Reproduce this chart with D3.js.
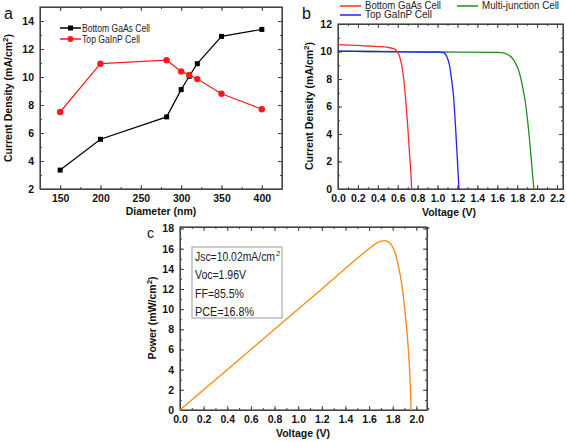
<!DOCTYPE html>
<html><head><meta charset="utf-8">
<script src="https://cdn.jsdelivr.net/npm/d3@7"></script>
<style>
body{margin:0;background:#fff;}
svg{font-family:"Liberation Sans",Arial,sans-serif;}
.tick text{font-weight:bold;font-size:10.5px;fill:#111;}
</style></head><body>
<svg id="c" width="567" height="442"></svg>
<script>
// ---- Panel a data ----
const diamBlack = [150, 200, 282, 300, 310, 320, 350, 400];
const jBlack    = [3.35, 5.55, 7.15, 9.1, 10.05, 10.95, 12.9, 13.4];
const diamRed   = [150, 200, 282, 300, 310, 320, 350, 400];
const jRed      = [7.5, 10.95, 11.2, 10.4, 10.15, 9.85, 8.8, 7.7];
const seriesA   = ["Bottom GaAs Cell", "Top GaInP Cell"];
const ticksAx   = [150, 200, 250, 300, 350, 400];
const ticksAy   = [2, 4, 6, 8, 10, 12, 14];

// ---- Panel b data (J-V curves) ----
const vGaAs = [0, 0.1, 0.2, 0.3, 0.4, 0.5, 0.55, 0.58, 0.6, 0.62, 0.64, 0.66, 0.68, 0.70, 0.72, 0.735, 0.74];
const jGaAs = [10.5, 10.47, 10.44, 10.4, 10.36, 10.3, 10.22, 10.12, 9.95, 9.6, 9.0, 8.0, 6.5, 4.6, 2.4, 0.8, 0];
const vGaInP = [0, 0.3, 0.6, 0.9, 1.0, 1.05, 1.08, 1.10, 1.12, 1.14, 1.16, 1.18, 1.20, 1.215];
const jGaInP = [10.02, 10.0, 9.98, 9.96, 9.95, 9.93, 9.8, 9.5, 9.0, 8.0, 6.8, 4.6, 2.0, 0];
const vMJ = [0, 0.4, 0.8, 1.2, 1.6, 1.66, 1.70, 1.74, 1.78, 1.82, 1.85, 1.88, 1.91, 1.94, 1.96, 1.968];
const jMJ = [10.02, 10.0, 9.98, 9.95, 9.93, 9.9, 9.8, 9.6, 9.2, 8.5, 7.6, 6.4, 4.6, 2.3, 0.6, 0];
const seriesB = ["Bottom GaAs Cell", "Top GaInP Cell", "Multi-junction Cell"];
const ticksBx = [0, 0.2, 0.4, 0.6, 0.8, 1.0, 1.2, 1.4, 1.6, 1.8, 2.0, 2.2];
const ticksBy = [0, 2, 4, 6, 8, 10, 12];

// ---- Panel c data (P-V curve) ----
const vP = [0, 0.4, 0.8, 1.2, 1.6, 1.65, 1.70, 1.73, 1.76, 1.79, 1.82, 1.85, 1.88, 1.90, 1.92, 1.94, 1.95, 1.955];
const pP = [0, 4.0, 8.0, 12.0, 16.0, 16.45, 16.75, 16.8, 16.7, 16.35, 15.6, 14.2, 12.2, 10.2, 7.8, 4.6, 2.0, 0];
const ticksCx = [0, 0.2, 0.4, 0.6, 0.8, 1.0, 1.2, 1.4, 1.6, 1.8, 2.0];
const ticksCy = [0, 2, 4, 6, 8, 10, 12, 14, 16, 18];
const statsC = ["Jsc=10.02mA/cm", "Voc=1.96V", "FF=85.5%", "PCE=16.8%"];

const svg = d3.select("#c");

function frame(g, x, y, xt, yt, xMinor, yMinor, fmtX, fmtY) {
  const [x0, x1] = x.range(), [y0, y1] = y.range();
  const col = "#444";
  const ax = (gen) => gen.tickSizeInner(-4).tickSizeOuter(0).tickPadding(6);
  g.append("g").attr("transform", `translate(0,${y0})`)
    .call(ax(d3.axisBottom(x).tickValues(xt).tickFormat(fmtX)));
  g.append("g").attr("transform", `translate(${x0},0)`)
    .call(ax(d3.axisLeft(y).tickValues(yt).tickFormat(fmtY)));
  g.append("g").attr("transform", `translate(0,${y1})`)
    .call(d3.axisTop(x).tickValues(xt).tickFormat("").tickSizeInner(-4).tickSizeOuter(0));
  g.append("g").attr("transform", `translate(${x1},0)`)
    .call(d3.axisRight(y).tickValues(yt).tickFormat("").tickSizeInner(-4).tickSizeOuter(0));
  [[d3.axisBottom, x, xMinor, y0], [d3.axisTop, x, xMinor, y1]].forEach(([f, s, m, t]) =>
    g.append("g").attr("transform", `translate(0,${t})`)
      .call(f(s).tickValues(m).tickFormat("").tickSizeInner(-2).tickSizeOuter(0))
      .call(a => a.select(".domain").remove()));
  [[d3.axisLeft, y, yMinor, x0], [d3.axisRight, y, yMinor, x1]].forEach(([f, s, m, t]) =>
    g.append("g").attr("transform", `translate(${t},0)`)
      .call(f(s).tickValues(m).tickFormat("").tickSizeInner(-2).tickSizeOuter(0))
      .call(a => a.select(".domain").remove()));
  g.selectAll(".domain, .tick line").attr("stroke", col).attr("stroke-width", 1);
  g.append("rect").attr("x", x0).attr("y", y1).attr("width", x1 - x0).attr("height", y0 - y1)
    .attr("fill", "none").attr("stroke", col).attr("stroke-width", 1.2);
}
function ylabel(g, xPos, yMid, txt) {
  const t = g.append("text").attr("transform", `translate(${xPos},${yMid}) rotate(-90)`)
    .attr("text-anchor", "middle").attr("font-weight", "bold").attr("font-size", 10.5).attr("fill", "#111");
  t.append("tspan").text(txt);
  t.append("tspan").text("2").attr("font-size", 8).attr("dy", -4);
  t.append("tspan").text(")").attr("dy", 4);
}
function xlabel(g, xMid, yPos, txt) {
  g.append("text").attr("x", xMid).attr("y", yPos).attr("text-anchor", "middle")
    .attr("font-weight", "bold").attr("font-size", 10.5).attr("fill", "#111").text(txt);
}
function legText(g, x, y, s, w, fs) {
  g.append("text").attr("x", x).attr("y", y).attr("font-size", fs || 11).attr("fill", "#222")
    .attr("textLength", w).attr("lengthAdjust", "spacingAndGlyphs").text(s);
}
const minorRange = (a, b, s) => d3.range(a, b + s / 2, s).map(v => +v.toFixed(4));

// ===== Panel a =====
{
  const g = svg.append("g");
  const x = d3.scaleLinear().domain([125, 425]).range([40, 282]);
  const y = d3.scaleLinear().domain([2, 15]).range([189, 7]);
  frame(g, x, y, ticksAx, ticksAy, minorRange(125, 425, 25), minorRange(2, 15, 1), d3.format("d"), d3.format("d"));
  const line = d3.line().x(d => x(d[0])).y(d => y(d[1]));
  const blk = diamBlack.map((d, i) => [d, jBlack[i]]);
  const red = diamRed.map((d, i) => [d, jRed[i]]);
  g.append("path").datum(blk).attr("d", line).attr("fill", "none").attr("stroke", "#000").attr("stroke-width", 1.2);
  g.selectAll(".sq").data(blk).join("rect").attr("x", d => x(d[0]) - 2.5).attr("y", d => y(d[1]) - 2.5)
    .attr("width", 5).attr("height", 5).attr("fill", "#000");
  g.append("path").datum(red).attr("d", line).attr("fill", "none").attr("stroke", "#ff1a1a").attr("stroke-width", 1.2);
  g.selectAll(".ci").data(red).join("circle").attr("cx", d => x(d[0])).attr("cy", d => y(d[1]))
    .attr("r", 3.2).attr("fill", "#ff1a1a");
  const cols = ["#000", "#ff1a1a"];
  const widths = [68, 58];
  seriesA.forEach((s, i) => {
    const yy = 28 + i * 11;
    g.append("line").attr("x1", 60).attr("x2", 81).attr("y1", yy).attr("y2", yy).attr("stroke", cols[i]).attr("stroke-width", 1.5);
    if (i === 0) g.append("rect").attr("x", 68).attr("y", yy - 2.5).attr("width", 5).attr("height", 5).attr("fill", cols[i]);
    else g.append("circle").attr("cx", 70.5).attr("cy", yy).attr("r", 3).attr("fill", cols[i]);
    legText(g, 82, yy + 4, s, widths[i]);
  });
  ylabel(g, 12, 98, "Current Density (mA/cm");
  xlabel(g, 161, 215, "Diameter (nm)");
  g.append("text").attr("x", 4).attr("y", 19).attr("font-size", 16).attr("fill", "#111").text("a");
}

// ===== Panel b =====
{
  const g = svg.append("g");
  const x = d3.scaleLinear().domain([0, 2.26]).range([338, 563]);
  const y = d3.scaleLinear().domain([0, 12]).range([189, 24]);
  frame(g, x, y, ticksBx, ticksBy, minorRange(0, 2.25, 0.1), minorRange(0, 12, 1), d3.format(".1f"), d3.format("d"));
  const line = d3.line().x(d => x(d[0])).y(d => y(d[1])).curve(d3.curveMonotoneX);
  const cols = ["#ff2a2a", "#2020ff", "#228b22"];
  const curves = [[vGaAs, jGaAs], [vGaInP, jGaInP], [vMJ, jMJ]];
  [2, 1, 0].forEach(i => {
    const [vv, jj] = curves[i];
    g.append("path").datum(vv.map((v, k) => [v, jj[k]])).attr("d", line)
      .attr("fill", "none").attr("stroke", cols[i]).attr("stroke-width", 1.3);
  });
  const leg = [[340, 6], [340, 15], [457, 6]];
  const widths = [76, 67, 77];
  seriesB.forEach((s, i) => {
    const [lx, ly] = leg[i];
    g.append("line").attr("x1", lx).attr("x2", lx + 21).attr("y1", ly).attr("y2", ly).attr("stroke", cols[i]).attr("stroke-width", 1.5);
    legText(g, lx + 25, ly + 3, s, widths[i], 10.5);
  });
  ylabel(g, 313, 106, "Current Density (mA/cm");
  xlabel(g, 449, 216, "Voltage (V)");
  g.append("text").attr("x", 302).attr("y", 19).attr("font-size", 16).attr("fill", "#111").text("b");
}

// ===== Panel c =====
{
  const g = svg.append("g");
  const x = d3.scaleLinear().domain([0, 2.09]).range([180, 427]);
  const y = d3.scaleLinear().domain([0, 18.15]).range([410, 227]);
  frame(g, x, y, ticksCx, ticksCy, minorRange(0, 2.09, 0.1), minorRange(0, 18, 1), d3.format(".1f"), d3.format("d"));
  const line = d3.line().x(d => x(d[0])).y(d => y(d[1])).curve(d3.curveMonotoneX);
  g.append("path").datum(vP.map((v, k) => [v, pP[k]])).attr("d", line)
    .attr("fill", "none").attr("stroke", "#ff8c1a").attr("stroke-width", 1.4);
  g.append("rect").attr("x", 192).attr("y", 247).attr("width", 90).attr("height", 71)
    .attr("fill", "#fff").attr("stroke", "#999").attr("stroke-width", 1);
  const sw = [80, 51, 49, 59];
  statsC.forEach((s, i) => {
    const yy = 261 + i * 18.3;
    g.append("text").attr("x", 195).attr("y", yy).attr("font-size", 12).attr("fill", "#222")
      .attr("textLength", sw[i]).attr("lengthAdjust", "spacingAndGlyphs").text(s);
    if (i === 0) g.append("text").attr("x", 276).attr("y", yy - 5.5).attr("font-size", 7.5).attr("fill", "#222").text("2");
  });
  ylabel(g, 156, 318, "Power (mW/cm");
  xlabel(g, 303, 437, "Voltage (V)");
  g.append("text").attr("x", 147).attr("y", 238).attr("font-size", 14).attr("fill", "#111").text("c");
}
</script></body></html>
